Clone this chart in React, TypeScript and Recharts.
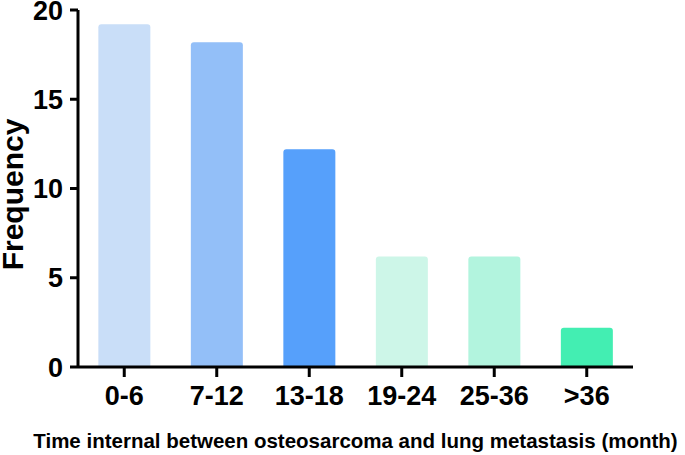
import React from 'react';
import { BarChart, Bar, XAxis, YAxis, Cell, Label, Rectangle } from 'recharts';

const categories = ['0-6', '7-12', '13-18', '19-24', '25-36', '>36'];
const frequency = [19, 18, 12, 6, 6, 2];
const barColors = ['#C9DEF8', '#93BFF8', '#56A0FB', '#CDF6E8', '#B2F4DE', '#43EEB2'];
const yTicks = [0, 5, 10, 15, 20];

const data = categories.map((c, i) => ({ name: c, value: frequency[i] }));

const FONT = 'Liberation Sans, Arial, sans-serif';

// Prism draws each bar with a same-coloured border, so the top sits a few px above the value.
function PrismBar(props: any) {
  const { x, y, width, height, fill } = props;
  return <Rectangle x={x} y={y - 3.5} width={width} height={height + 3.5} fill={fill} radius={[3, 3, 0, 0]} />;
}

export default function App() {
  return (
    <div style={{ position: 'absolute', left: 0, top: 0, width: 685, height: 455, background: '#fff' }}>
      <BarChart
        width={685}
        height={455}
        data={data}
        margin={{ top: 10, right: 52, left: 0, bottom: 0 }}
        barCategoryGap="22%"
      >
        <XAxis
          dataKey="name"
          height={88}
          axisLine={{ stroke: '#000', strokeWidth: 3 }}
          tickLine={{ stroke: '#000', strokeWidth: 3 }}
          tickSize={10}
          tickMargin={9}
          tick={{ fill: '#000', fontSize: 27, fontWeight: 700, fontFamily: FONT }}
        >
          <Label
            value="Time internal between osteosarcoma and lung metastasis (month)"
            position="insideBottom"
            offset={7}
            style={{ fill: '#000', fontSize: 20.5, fontWeight: 700, fontFamily: FONT }}
          />
        </XAxis>
        <YAxis
          width={78}
          domain={[0, 20]}
          ticks={yTicks}
          interval={0}
          axisLine={{ stroke: '#000', strokeWidth: 3 }}
          tickLine={{ stroke: '#000', strokeWidth: 3 }}
          tickSize={8}
          tickMargin={7}
          tick={{ fill: '#000', fontSize: 27, fontWeight: 700, fontFamily: FONT }}
        >
          <Label
            value="Frequency"
            angle={-90}
            position="insideLeft"
            offset={12}
            dy={6}
            style={{ fill: '#000', fontSize: 30, fontWeight: 700, fontFamily: FONT, textAnchor: 'middle' }}
          />
        </YAxis>
        <Bar dataKey="value" shape={PrismBar} isAnimationActive={false}>
          {data.map((d, i) => (
            <Cell key={d.name} fill={barColors[i]} />
          ))}
        </Bar>
      </BarChart>
    </div>
  );
}
